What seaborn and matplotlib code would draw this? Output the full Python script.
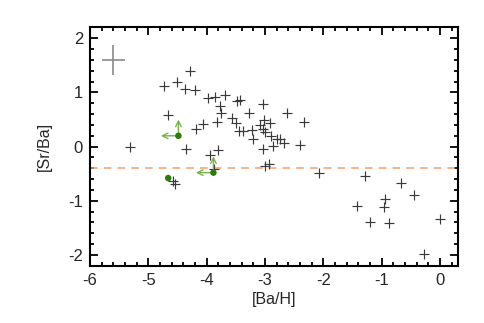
import numpy as np
import pandas as pd
import matplotlib
matplotlib.use("Agg")
import matplotlib.pyplot as plt
import seaborn as sns
from matplotlib.ticker import MultipleLocator

# stars: [Ba/H] vs [Sr/Ba]
ba_h = [-4.29, -4.74, -4.51, -4.38, -4.20, -3.97, -3.86, -3.68, -3.48, -3.43,
        -3.78, -3.76, -3.27, -4.66, -3.57, -3.50, -4.06, -4.19, -3.82, -3.44,
        -3.38, -3.23, -3.20, -3.09, -5.31, -4.35, -3.95, -3.81, -3.03, -2.63,
        -2.34, -3.02, -2.92, -3.03, -3.00, -2.89, -2.80, -2.74, -2.86, -2.68,
        -2.40, -3.03, -3.00, -2.93, -3.87, -4.57, -4.55, -2.08, -1.28, -0.67,
        -0.44, -0.94, -1.42, -0.97, -1.21, -0.88, -0.01, -0.27]
sr_ba = [1.40, 1.12, 1.19, 1.07, 1.05, 0.90, 0.91, 0.95, 0.84, 0.87,
         0.75, 0.63, 0.62, 0.58, 0.52, 0.44, 0.42, 0.33, 0.46, 0.28,
         0.28, 0.30, 0.14, 0.40, 0.00, -0.05, -0.16, -0.06, 0.78, 0.62,
         0.46, 0.50, 0.43, 0.33, 0.27, 0.20, 0.15, 0.14, 0.02, 0.06,
         0.03, -0.05, -0.36, -0.32, -0.42, -0.63, -0.69, -0.48, -0.55, -0.68,
         -0.90, -0.97, -1.09, -1.11, -1.39, -1.41, -1.33, -1.99]

# highlighted stars (green), some are limits
hl_ba_h = [-4.485, -3.885, -4.66]
hl_sr_ba = [0.20, -0.48, -0.58]
hl_limit = [True, True, False]
arrow_len = 0.3

# typical error bar
err_x, err_y = -5.6, 1.6
err_dx, err_dy = 0.2, 0.28

solar_line = -0.4

df = pd.DataFrame({"[Ba/H]": ba_h, "[Sr/Ba]": sr_ba})
df_hl = pd.DataFrame({"[Ba/H]": hl_ba_h, "[Sr/Ba]": hl_sr_ba})

sns.set_style("ticks")
plt.rcParams["font.family"] = ["Liberation Sans", "DejaVu Sans"]
plt.rcParams["axes.unicode_minus"] = False

fig = plt.figure(figsize=(4.85, 3.23), dpi=100)
ax = fig.add_axes([0.1856, 0.177, 0.758, 0.738])

ax.axhline(solar_line, color="#f4a06a", lw=1.1, ls=(0, (5, 4)), zorder=1)

sns.scatterplot(data=df, x="[Ba/H]", y="[Sr/Ba]", marker="+", s=55,
                color="#3a3a3a", linewidth=0.85, ax=ax, zorder=3)

ax.errorbar(err_x, err_y, xerr=err_dx, yerr=err_dy, fmt="none",
            ecolor="#8a8a8a", elinewidth=1.2, capsize=0)

green_light = "#79b04a"
for x, y, lim in zip(hl_ba_h, hl_sr_ba, hl_limit):
    if lim:
        ax.annotate("", xy=(x - arrow_len, y), xytext=(x, y),
                    arrowprops=dict(arrowstyle="->", color=green_light, lw=1.0,
                                    mutation_scale=10, shrinkA=0, shrinkB=0))
        ax.annotate("", xy=(x, y + arrow_len), xytext=(x, y),
                    arrowprops=dict(arrowstyle="->", color=green_light, lw=1.0,
                                    mutation_scale=10, shrinkA=0, shrinkB=0))

sns.scatterplot(data=df_hl, x="[Ba/H]", y="[Sr/Ba]", marker="o", s=22,
                color="#2e7a0c", edgecolor="none", ax=ax, zorder=4)

ax.set_xlim(-6, 0.3)
ax.set_ylim(-2.2, 2.2)
ax.xaxis.set_major_locator(MultipleLocator(1))
ax.xaxis.set_minor_locator(MultipleLocator(0.2))
ax.yaxis.set_major_locator(MultipleLocator(1))
ax.yaxis.set_minor_locator(MultipleLocator(0.2))
ax.tick_params(which="both", direction="in", top=True, right=True,
               labelsize=12, width=1.3, color="black", pad=5)
ax.tick_params(which="major", length=6)
ax.tick_params(which="minor", length=3)
for sp in ax.spines.values():
    sp.set_linewidth(1.5)
    sp.set_color("black")

ax.set_xlabel("[Ba/H]", fontsize=11.5, labelpad=3)
ax.set_ylabel("[Sr/Ba]", fontsize=11.5, labelpad=12)

fig.savefig("out.png", dpi=100)
